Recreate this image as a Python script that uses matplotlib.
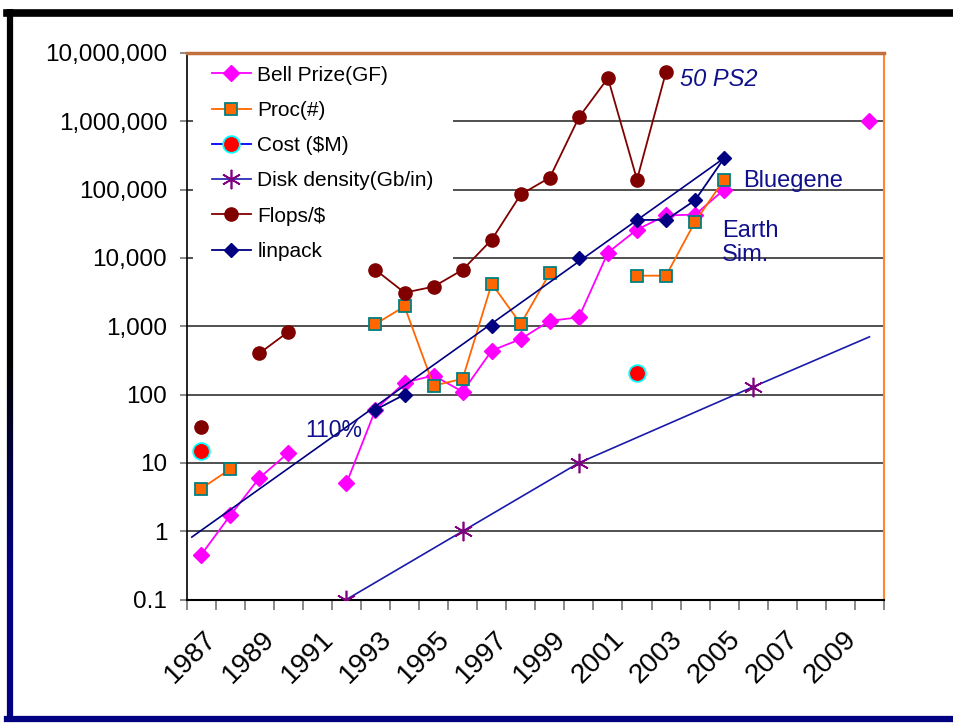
import numpy as np
import matplotlib
matplotlib.use("Agg")
import matplotlib.pyplot as plt
import matplotlib.transforms as mtransforms
from matplotlib.lines import Line2D
from matplotlib.collections import LineCollection
from matplotlib.ticker import NullLocator

nan = np.nan

# categories: one per year, 1987..2010
years = np.arange(1987, 2011)
year_labels = [str(y) for y in range(1987, 2011, 2)]

bell = [0.45, 1.7, 6, 14, nan, 5, 60, 150, 190, 110, 440, 650, 1200, 1350,
        12000, 26000, 42000, 43000, 100000, nan, nan, nan, nan, 1000000]
proc = [4.2, 8.1, nan, nan, nan, nan, 1080, 1950, 135, 170, 4200, 1080, 6000,
        nan, nan, 5500, 5500, 34000, 140000, nan, nan, nan, nan, nan]
cost = [15, nan, nan, nan, nan, nan, nan, nan, nan, nan, nan, nan, nan,
        nan, nan, 210, nan, nan, nan, nan, nan, nan, nan, nan]
flops = [33, nan, 400, 830, nan, nan, 6700, 3100, 3800, 6700, 18500, 85000,
         150000, 1140000, 4300000, 140000, 5300000, nan, nan, nan, nan, nan, nan, nan]
linpack = [nan, nan, nan, nan, nan, nan, 60, 100, nan, nan, 1000, nan, nan,
           10000, nan, 36000, 36000, 70000, 290000, nan, nan, nan, nan, nan]

# disk density points (last one is the end of the drawn line, no marker)
disk_years = [1992, 1996, 2000, 2006, 2010]
disk_vals = [0.1, 1, 10, 130, 700]

# hand drawn "110%" growth line
trend_years = [1986.68, 2005]
trend_vals = [0.82, 290000]

ytick_vals = [0.1, 1, 10, 100, 1000, 10000, 100000, 1000000, 10000000]
ytick_labels = ["0.1", "1", "10", "100", "1,000", "10,000", "100,000",
                "1,000,000", "10,000,000"]

plt.rcParams["font.family"] = ["Liberation Sans", "DejaVu Sans"]

W, H = 954, 724
fig = plt.figure(figsize=(W / 100, H / 100), dpi=100)
ax = fig.add_axes([186.6 / W, 1 - 599.5 / H, (884 - 186.6) / W, (599.5 - 53) / H])
ax.set_yscale("log")
ax.set_ylim(0.1, 1e7)
ax.set_xlim(1986.5, 2010.5)
ax.set_axisbelow(True)

navy = "#000080"
txt_blue = "#10108c"

ax.plot(years, bell, color="#ff00ff", lw=1.3, marker="D", ms=8.5,
        mfc="#ff00ff", mec="#ff00ff", label="Bell Prize(GF)", zorder=3)
ax.plot(years, proc, color="#ff6600", lw=1.3, marker="s", ms=8.5,
        mfc="#ff6600", mec="#008080", mew=1.3, label="Proc(#)", zorder=3)
ax.plot(years, cost, color="#0000ff", lw=1.3, marker="o", ms=12,
        mfc="#ff0000", mec="#00ffff", mew=1.3, label="Cost ($M)", zorder=3)
ax.plot(disk_years, disk_vals, color="#1a1aaa", lw=1.2, marker=(6, 2, 0), ms=14,
        mec="#800080", mew=1.2, markevery=[0, 1, 2, 3],
        label="Disk density(Gb/in)", zorder=3)
ax.plot(years, flops, color="#800000", lw=1.3, marker="o", ms=9.5,
        mfc="#800000", mec="#800000", label="Flops/$", zorder=3)
ax.plot(years, linpack, color=navy, lw=1.3, marker="D", ms=7,
        mfc=navy, mec=navy, label="linpack", zorder=4)
ax.plot(trend_years, trend_vals, color=navy, lw=1.2, zorder=3)

# axes styling
ax.set_yticks(ytick_vals)
ax.set_yticklabels(ytick_labels)
ax.yaxis.set_minor_locator(NullLocator())
ax.grid(axis="y", which="major", color="#505050", lw=1.4)
ax.tick_params(axis="y", which="major", length=5, width=1.3, color="#808080",
               labelsize=17.5, pad=9)

ax.set_xticks(years[::2])
ax.set_xticklabels(year_labels, rotation=45, ha="right", va="center",
                   rotation_mode="anchor")
ax.set_xticks(np.arange(1986.5, 2011, 1), minor=True)
ax.tick_params(axis="x", which="major", length=0, labelsize=20, pad=26)
ax.tick_params(axis="x", which="minor", length=7, width=1.3, color="#808080")
shift = mtransforms.ScaledTranslation(12 / 100, 0, fig.dpi_scale_trans)
for lbl in ax.get_xticklabels():
    lbl.set_transform(lbl.get_transform() + shift)

ax.spines["left"].set_color("black")
ax.spines["left"].set_linewidth(1.2)
ax.spines["bottom"].set_color("black")
ax.spines["bottom"].set_linewidth(1.5)
ax.spines["top"].set_color("#c0703c")
ax.spines["top"].set_linewidth(2.5)
ax.spines["right"].set_color("#ff8833")
ax.spines["right"].set_linewidth(1.5)

leg = ax.legend(loc="upper left", bbox_to_anchor=(0.009, 1.011), fontsize=15,
                frameon=True, fancybox=False, edgecolor="none", facecolor="white",
                framealpha=1, borderpad=0.9, handlelength=1.9, handletextpad=0.3,
                labelspacing=0.78, borderaxespad=0)
leg.set_zorder(2.4)

ax.text(1990.58, 29.6, "110%", color=txt_blue, fontsize=16.5, ha="left", va="center")
ax.text(2003.49, 4.05e6, "50 PS2", color=txt_blue, fontsize=17, style="italic",
        ha="left", va="center")
ax.text(2005.65, 1.34e5, "Bluegene", color=txt_blue, fontsize=17, ha="left", va="center")
ax.text(2004.92, 16600, "Earth\nSim.", color=txt_blue, fontsize=17, ha="left",
        va="center", linespacing=1.15)

# slide frame
fig.add_artist(Line2D([7 / W, 1], [1 - 13 / H, 1 - 13 / H], color="black",
                      lw=5.5, transform=fig.transFigure))
fig.add_artist(Line2D([7 / W, 1], [1 - 719 / H, 1 - 719 / H], color=navy,
                      lw=4.5, transform=fig.transFigure))
ys = np.linspace(9, 722, 80)
segs = [[(10 / W, 1 - ys[i] / H), (10 / W, 1 - ys[i + 1] / H)] for i in range(len(ys) - 1)]
fr = np.clip((ys[:-1] - 360) / 200, 0, 1)
cols = [(0, 0, 0.5 * f) for f in fr]
fig.add_artist(LineCollection(segs, colors=cols, linewidths=4.5,
                              transform=fig.transFigure))

fig.savefig("out.png", dpi=100)
